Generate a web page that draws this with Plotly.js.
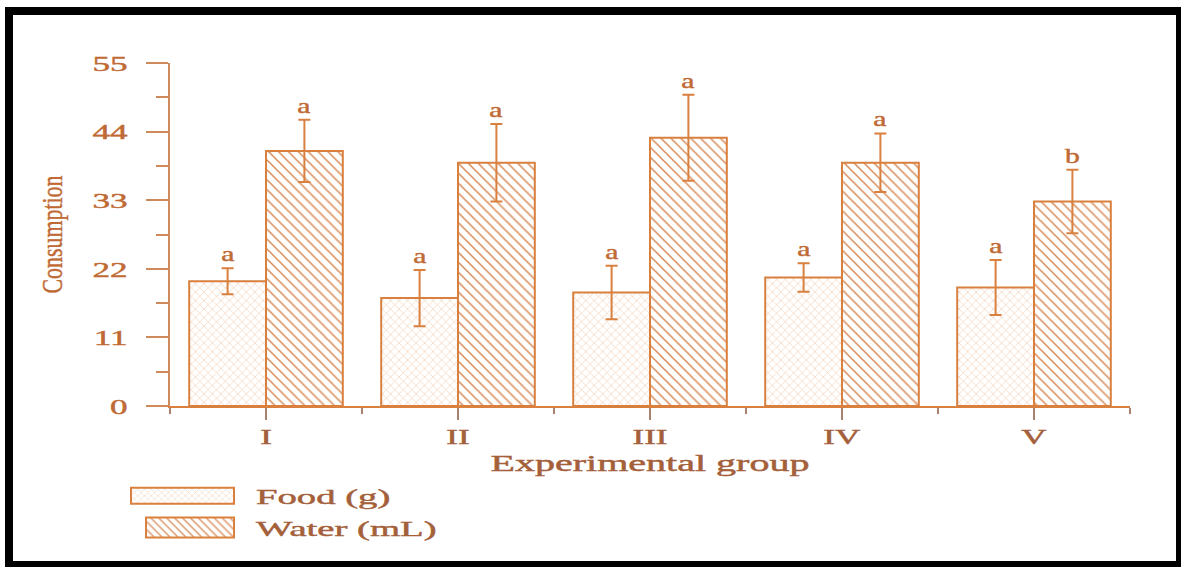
<!DOCTYPE html>
<html>
<head>
<meta charset="utf-8">
<script src="https://cdn.plot.ly/plotly-3.0.1.min.js"></script>
<style>
html,body{margin:0;padding:0;background:#fff;}
#chart{width:1181px;height:567px;}
</style>
</head>
<body>
<div id="chart"></div>
<script>
// ---- data ----
const groups = ["I", "II", "III", "IV", "V"];
const groupIndex = [0, 1, 2, 3, 4];
const foodMean = [20.0, 17.3, 18.2, 20.6, 19.0];
const foodErr = [2.1, 4.5, 4.3, 2.3, 4.4];
const waterMean = [40.9, 39.0, 43.0, 39.0, 32.8];
const waterErr = [5.0, 6.2, 6.9, 4.7, 5.1];
const foodLetters = ["a", "a", "a", "a", "a"];
const waterLetters = ["a", "a", "a", "a", "b"];
const yTicks = [0, 11, 22, 33, 44, 55];

// ---- style ----
const txt = "#BF6A34";
const txt2 = "#A4603A";
const ln = "#D9803F";
const axc = "#CF8A5C";
const serif = "Liberation Serif, Times New Roman, serif";

const food = {
  type: "bar", name: "Food (g)", x: groupIndex, y: foodMean,
  marker: {color: "#FFFFFF", line: {color: ln, width: 2},
    pattern: {shape: "x", fgcolor: "#EFC6AA", bgcolor: "#FFFFFF", size: 6, solidity: 0.18, fillmode: "replace"}},
  error_y: {type: "data", array: foodErr, visible: true, color: ln, thickness: 2, width: 6},
  hoverinfo: "skip"
};
const water = {
  type: "bar", name: "Water (mL)", x: groupIndex, y: waterMean,
  marker: {color: "#FFFFFF", line: {color: ln, width: 2},
    pattern: {shape: "\\", fgcolor: "#D98C5A", bgcolor: "#FFFFFF", size: 7, solidity: 0.22, fillmode: "replace"}},
  error_y: {type: "data", array: waterErr, visible: true, color: ln, thickness: 2, width: 6},
  hoverinfo: "skip"
};

const annotations = [];
groupIndex.forEach((g, i) => {
  annotations.push({x: g - 0.2, y: foodMean[i] + foodErr[i], xref: "x", yref: "y",
    text: foodLetters[i], showarrow: false, yanchor: "bottom", yshift: 0,
    font: {family: serif, size: 22, color: txt}});
  annotations.push({x: g + 0.2, y: waterMean[i] + waterErr[i], xref: "x", yref: "y",
    text: waterLetters[i], showarrow: false, yanchor: "bottom", yshift: 0,
    font: {family: serif, size: 22, color: txt}});
});

const L = 170, R = 1130, T = 63, B = 406, W = 1181, H = 567;
const px = v => (v - L) / (R - L);
const py = v => (B - v) / (B - T);

const layout = {
  width: W, height: H,
  margin: {l: L, r: W - R, t: T, b: H - B, pad: 0},
  paper_bgcolor: "#FFFFFF", plot_bgcolor: "#FFFFFF",
  barmode: "group", bargap: 0.2, bargroupgap: 0,
  showlegend: true,
  legend: {x: px(128), y: py(475), xanchor: "left", yanchor: "top", orientation: "v",
    font: {family: serif, size: 22, color: txt2}, bgcolor: "rgba(0,0,0,0)",
    itemwidth: 118, tracegroupgap: 0},
  font: {family: serif, color: txt},
  xaxis: {
    range: [-0.5, 4.5], tickmode: "array", tickvals: groupIndex, ticktext: groups,
    showgrid: false, zeroline: false, showline: true, linecolor: ln, linewidth: 2,
    ticks: "outside", ticklen: 12, tickwidth: 2, tickcolor: "#A88270",
    tickfont: {family: serif, size: 20, color: txt2},
    minor: {tick0: 0.5, dtick: 1, ticks: "outside", ticklen: 6, tickwidth: 2, tickcolor: "#A88270", showgrid: false},
    title: {text: "Experimental group", font: {family: serif, size: 23, color: txt2}, standoff: 8},
    fixedrange: true
  },
  yaxis: {
    range: [0, 55], tickmode: "array", tickvals: yTicks,
    showgrid: false, zeroline: false, showline: true, linecolor: axc, linewidth: 2,
    ticks: "outside", ticklen: 22, tickwidth: 2, tickcolor: axc,
    ticklabelstandoff: 14,
    tickfont: {family: serif, size: 22, color: txt},
    minor: {tick0: 0, dtick: 5.5, ticks: "outside", ticklen: 12, tickwidth: 2, tickcolor: axc, showgrid: false},
    title: {text: "Consumption", font: {family: serif, size: 30, color: txt}, standoff: 34},
    fixedrange: true
  },
  annotations: annotations,
  shapes: [
    {type: "rect", xref: "paper", yref: "paper", x0: px(9), x1: px(1180), y0: py(11), y1: py(565),
     line: {color: "#000000", width: 8}, fillcolor: "rgba(0,0,0,0)", layer: "above"}
  ]
};

// The reference picture is stretched horizontally; widen the text glyphs to match.
function stretch(sel, k) {
  document.querySelectorAll(sel).forEach(t => {
    const bb = t.getBBox();
    const anchor = t.getAttribute("text-anchor") || "start";
    const ax = anchor === "middle" ? bb.x + bb.width / 2 : anchor === "end" ? bb.x + bb.width : bb.x;
    const tr = t.getAttribute("transform") || "";
    t.setAttribute("transform", tr + " translate(" + ax + ",0) scale(" + k + ",1) translate(" + (-ax) + ",0)");
    t.style.stroke = t.style.fill;
    t.style.strokeWidth = "0.45px";
  });
}

Plotly.newPlot("chart", [food, water], layout, {displayModeBar: false, staticPlot: true}).then(gd => {
  stretch("#chart .xtick text", 1.75);
  stretch("#chart .ytick text", 1.6);
  stretch("#chart .g-xtitle text", 1.74);
  stretch("#chart .g-ytitle text", 0.73);
  stretch("#chart .legendtext", 1.76);
  stretch("#chart .annotation-text", 1.35);
  // no clipping of the widened legend text
  document.querySelectorAll("#chart .legend [clip-path]").forEach(e => e.removeAttribute("clip-path"));
  // larger legend swatches, like the reference
  const sw = ["M42,8H-61V-8H42Z", "M42,10H-46V-10H42Z"];
  document.querySelectorAll("#chart .legend .traces").forEach((g, i) => {
    g.querySelectorAll(".legendpoints path").forEach(p => p.setAttribute("d", sw[i] || sw[0]));
  });
});
</script>
</body>
</html>
